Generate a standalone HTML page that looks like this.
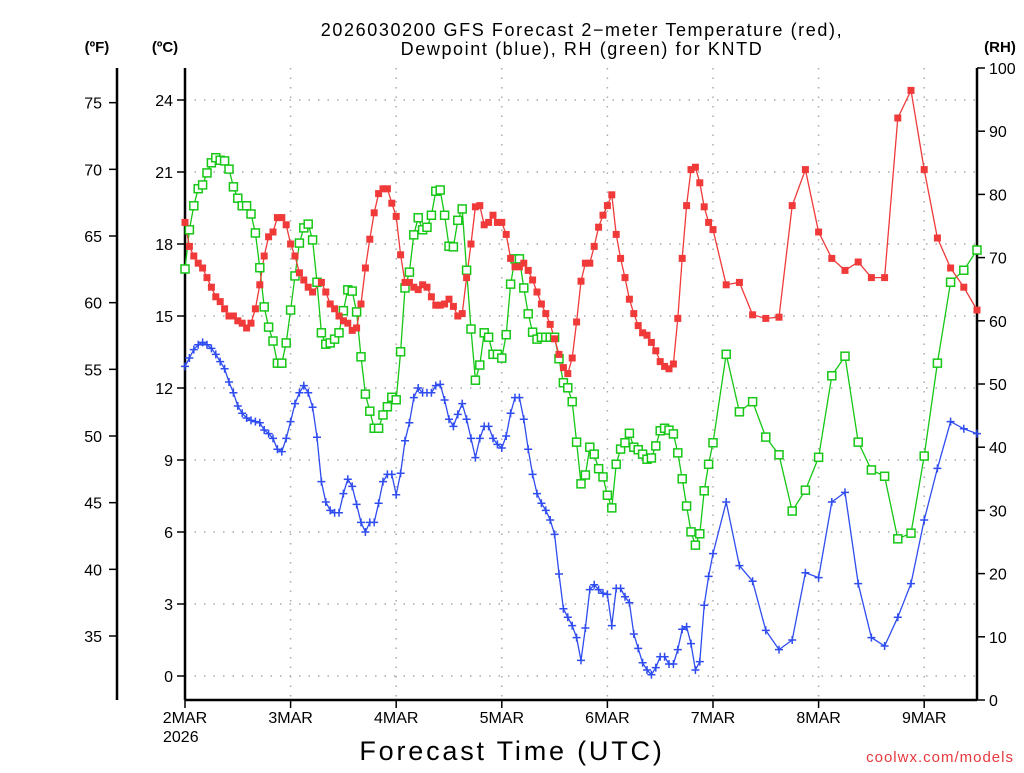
<!DOCTYPE html>
<html><head><meta charset="utf-8"><style>
body{margin:0;background:#fff;}
svg text{font-family:"Liberation Sans","DejaVu Sans",sans-serif;}
</style></head><body>
<svg id="chart" width="1024" height="768" viewBox="0 0 1024 768" xmlns="http://www.w3.org/2000/svg">
<text x="582" y="36" font-size="18" text-anchor="middle" letter-spacing="1.6">2026030200 GFS Forecast 2−meter Temperature (red),</text>
<text x="582" y="55" font-size="18" text-anchor="middle" letter-spacing="1.6">Dewpoint (blue), RH (green) for KNTD</text>
<text x="97" y="52" font-size="15" font-weight="bold" text-anchor="middle">(ºF)</text>
<text x="165" y="52" font-size="15" font-weight="bold" text-anchor="middle">(ºC)</text>
<text x="1000" y="52" font-size="15" font-weight="bold" text-anchor="middle">(RH)</text>
<text x="512" y="760" font-size="27" text-anchor="middle" letter-spacing="2.8">Forecast Time (UTC)</text>
<text x="1014" y="762" font-size="15" fill="#e8383d" text-anchor="end" letter-spacing="1">coolwx.com/models</text>
<g id="grid"></g><g id="axes"></g><g id="series"></g>
</svg>
<script>
const tempHours = [].concat(
  Array.from({length:30},(_, i)=>i),
  Array.from({length:90},(_, i)=>i+31),
  Array.from({length:20},(_, i)=>123+3*i));
const tempC = [18.9,17.9,17.5,17.2,17.0,16.6,16.2,15.8,15.6,15.3,15.0,15.0,14.8,14.7,14.5,14.7,15.3,16.3,17.5,18.3,18.5,19.1,19.1,18.8,18.0,17.5,16.8,16.5,16.2,16.0,
 16.4,16.0,15.5,15.3,15.0,14.8,14.7,14.4,14.5,15.5,17.0,18.2,19.3,20.1,20.3,20.3,19.7,
 19.15,17.55,16.4,16.4,16.2,16.1,16.3,16.2,15.8,15.45,15.45,15.5,15.7,15.4,15.0,15.1,16.6,18.0,19.55,19.6,18.8,18.9,19.2,18.9,18.9,18.4,17.4,17.05,17.05,17.2,16.9,16.5,16.0,15.5,15.1,14.65,14.05,13.4,12.85,12.6,13.25,14.75,16.45,17.2,17.2,17.9,18.7,19.2,19.6,
 20.05,18.4,17.4,16.6,15.7,15.1,14.6,14.3,14.2,13.9,13.55,13.1,12.9,12.8,13.0,14.9,17.4,19.6,21.1,21.2,20.55,19.55,18.9,18.6,
 16.3,16.4,15.05,14.9,14.95,19.6,21.1,18.5,17.4,16.9,17.25,16.6,16.6,23.25,24.4,21.1,18.25,17.0,16.2,15.25];
const dewHours = [].concat(Array.from({length:121},(_, i)=>i), Array.from({length:20},(_, i)=>123+3*i));
const dewC = [12.9,13.25,13.6,13.8,13.9,13.8,13.65,13.4,13.1,12.8,12.25,11.8,11.25,10.95,10.75,10.65,10.6,10.55,10.25,10.1,9.9,9.45,9.35,9.9,10.6,11.35,11.8,12.1,11.8,11.2,9.95,8.1,7.25,6.9,6.8,6.8,7.6,8.2,7.9,7.15,6.4,6.0,6.4,6.4,7.2,8.1,8.4,8.4,7.55,
 8.45,9.8,10.55,11.6,12.0,11.8,11.8,11.8,12.1,12.15,11.5,10.7,10.4,10.9,11.35,10.7,9.9,9.1,9.9,10.4,10.4,9.9,9.65,9.5,10.0,10.95,11.6,11.6,10.7,9.45,8.4,7.6,7.2,6.9,6.5,5.9,4.25,2.8,2.45,2.1,1.6,0.65,2.0,3.6,3.8,3.6,3.45,3.4,
 2.1,3.65,3.65,3.3,3.05,1.75,1.15,0.55,0.25,0.05,0.35,0.8,0.8,0.5,0.5,1.1,1.95,2.05,1.35,0.25,0.6,2.95,4.15,5.1,
 7.25,4.6,3.95,1.9,1.1,1.5,4.3,4.1,7.25,7.65,3.85,1.6,1.25,2.45,3.85,6.5,8.65,10.6,10.3,10.1];
const rhHours = dewHours.slice();
const rhPct = [68.2,74.4,78.2,80.9,81.5,83.4,85.0,85.8,85.4,85.3,84.0,81.2,79.4,78.2,78.2,76.9,73.9,68.4,62.2,59.0,56.8,53.3,53.3,56.5,61.7,67.1,72.3,74.7,75.3,72.8,66.1,58.1,56.3,56.5,57.1,58.1,61.6,64.9,64.7,61.4,54.3,48.4,45.7,43.0,43.0,45.1,46.4,47.9,
 47.5,
 55.1,65.2,67.7,73.6,76.3,74.4,74.8,76.7,80.5,80.7,76.7,71.8,71.7,75.9,77.7,68.0,58.7,50.6,53.0,58.1,57.4,54.7,54.7,54.1,57.8,65.8,69.8,69.8,65.2,61.1,58.2,57.1,57.4,57.4,57.4,57.4,54.0,50.2,49.4,47.2,40.8,34.2,35.6,40.0,38.9,36.6,35.3,32.4,30.4,
 37.3,39.7,40.7,42.2,40.0,39.6,38.9,38.1,38.3,40.2,42.6,43.0,42.7,42.1,39.1,35.0,30.7,26.6,24.5,26.3,33.1,37.3,40.7,
 54.7,45.6,47.2,41.6,38.8,29.9,33.2,38.4,51.3,54.4,40.8,36.4,35.4,25.5,26.4,38.6,53.3,66.1,68.0,71.2];
const dayLabels = ["2MAR","3MAR","4MAR","5MAR","6MAR","7MAR","8MAR","9MAR"];
const cTicks = [0,3,6,9,12,15,18,21,24];
const fTicks = [35,40,45,50,55,60,65,70,75];
const rhTicks = [0,10,20,30,40,50,60,70,80,90,100];

const X0=185, X1=977, Y0=700, YT=68, HMAX=180;
const xH = h => X0 + h*(X1-X0)/HMAX;
const yC = c => 676 - c*24;
const yF = f => yC((f-32)*5/9);
const yR = r => Y0 - r*(Y0-YT)/100;
const NS="http://www.w3.org/2000/svg";
function mk(parent, tag, attrs, txt){const e=document.createElementNS(NS,tag);for(const k in attrs)e.setAttribute(k,attrs[k]);if(txt!==undefined)e.textContent=txt;parent.appendChild(e);return e;}
const grid=document.getElementById('grid'), axes=document.getElementById('axes'), ser=document.getElementById('series');

cTicks.forEach(c=>{
  const y=yC(c);
  const g=mk(grid,'line',{x1:X0,x2:X1,y1:y,y2:y,stroke:'#aaa','stroke-width':1.5,'stroke-dasharray':'1.5 8'});
  
  
  const t=mk(axes,'line',{x1:X0-8,x2:X0,y1:y,y2:y,stroke:'#000','stroke-width':1.5});
  
  
  const l=mk(axes,'text',{x:173,y:y+6,'font-size':16,'text-anchor':'end'},String(c));
  
  
});
fTicks.forEach(f=>{
  const y=yF(f);
  const t=mk(axes,'line',{x1:109,x2:117,y1:y,y2:y,stroke:'#000','stroke-width':1.5});
  
  
  const l=mk(axes,'text',{x:102,y:y+6,'font-size':16,'text-anchor':'end'},String(f));
  
  
});
rhTicks.forEach(r=>{
  const y=yR(r);
  const t=mk(axes,'line',{x1:X1,x2:X1+8,y1:y,y2:y,stroke:'#000','stroke-width':1.5});
  
  
  const l=mk(axes,'text',{x:989,y:y+6,'font-size':16,'text-anchor':'start'},String(r));
  
  
});
dayLabels.forEach((d,i)=>{
  const x=xH(i*24);
  if(i>0){const g=mk(grid,'line',{x1:x,x2:x,y1:YT,y2:Y0,stroke:'#aaa','stroke-width':1.5,'stroke-dasharray':'1.5 8'});
  
  }
  const t=mk(axes,'line',{x1:x,x2:x,y1:Y0,y2:Y0+8,stroke:'#000','stroke-width':1.5});
  
  
  const l=mk(axes,'text',{x:x,y:723,'font-size':16,'text-anchor':'middle'},d);
  
  
});
const yr=mk(axes,'text',{x:163,y:742,'font-size':16},'2026');


[[117,YT,117,Y0],[X0,YT,X0,Y0],[X1,YT,X1,Y0],[X0,Y0,X1,Y0]].forEach(a=>{
  const l=mk(axes,'line',{x1:a[0],y1:a[1],x2:a[2],y2:a[3],stroke:'#000','stroke-width':2.5});
  
  
});

function drawLine(hours, vals, yf, color, name){
  const pts=hours.map((h,i)=>xH(h).toFixed(1)+','+yf(vals[i]).toFixed(1)).join(' ');
  const p=mk(ser,'polyline',{points:pts,fill:'none',stroke:color,'stroke-width':1.3});
  
  
}
drawLine(rhHours, rhPct, yR, '#16c716', 'rh-line');
drawLine(dewHours, dewC, yC, '#2f4cf0', 'dewpoint-line');
drawLine(tempHours, tempC, yC, '#f03a3a', 'temperature-line');
rhHours.forEach((h,i)=>{
  const r=mk(ser,'rect',{x:xH(h)-4,y:yR(rhPct[i])-4,width:8,height:8,fill:'#fff',stroke:'#16c716','stroke-width':1.5});
  
  
});
dewHours.forEach((h,i)=>{
  const x=xH(h), y=yC(dewC[i]);
  const p=mk(ser,'path',{d:`M${x-4},${y}H${x+4}M${x},${y-4}V${y+4}`,stroke:'#2f4cf0','stroke-width':1.5});
  
  
});
tempHours.forEach((h,i)=>{
  const r=mk(ser,'rect',{x:xH(h)-3.5,y:yC(tempC[i])-3.5,width:7,height:7,fill:'#f03a3a'});
  
  
});
</script>
</body></html>
